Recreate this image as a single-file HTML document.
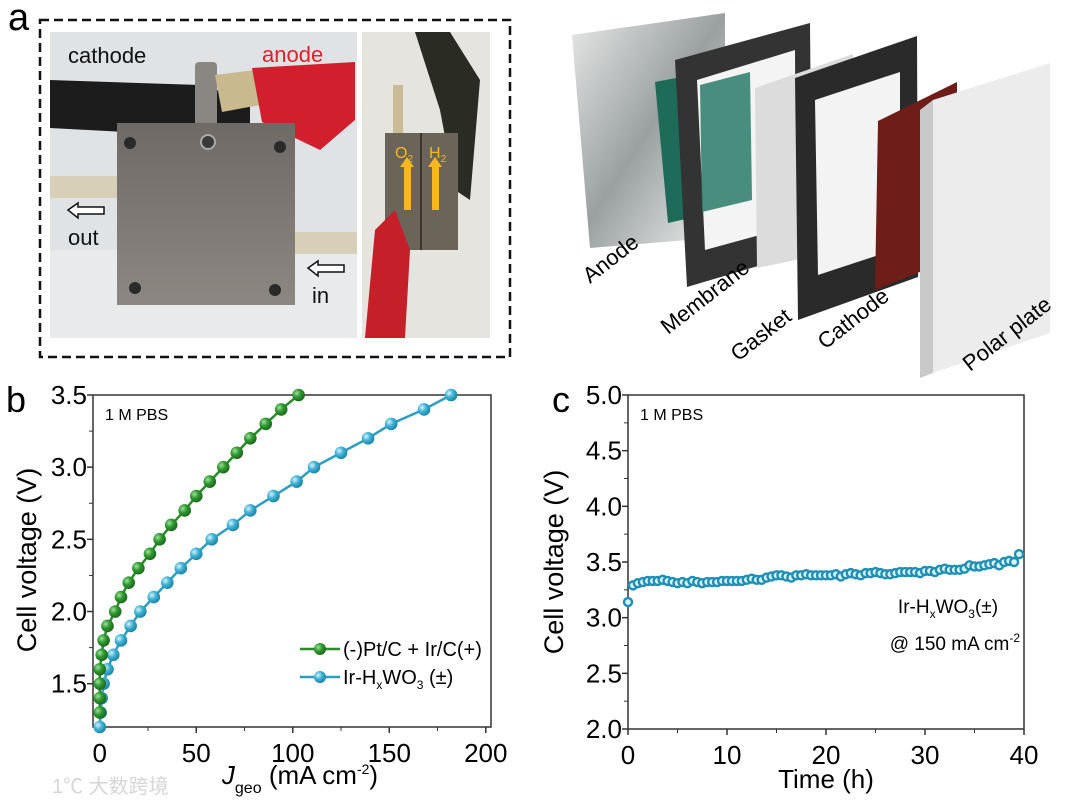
<!DOCTYPE html>
<html><head><meta charset="utf-8"><style>
html,body{margin:0;padding:0;background:#fff;}
svg{display:block;font-family:"Liberation Sans","Noto Sans CJK SC",sans-serif;}
</style></head><body>
<svg id="fig" width="1080" height="805" viewBox="0 0 1080 805" xmlns="http://www.w3.org/2000/svg">
<defs>
<radialGradient id="gBall" cx="35%" cy="35%" r="65%"><stop offset="0" stop-color="#9fe09f"/><stop offset="0.5" stop-color="#2f9a2f"/><stop offset="1" stop-color="#1d6b1d"/></radialGradient>
<radialGradient id="cBall" cx="35%" cy="35%" r="65%"><stop offset="0" stop-color="#d8f3fb"/><stop offset="0.5" stop-color="#3fb3d6"/><stop offset="1" stop-color="#1f86a8"/></radialGradient>
<linearGradient id="metal" x1="0" y1="0" x2="0" y2="1"><stop offset="0" stop-color="#6f6a66"/><stop offset="1" stop-color="#8d8782"/></linearGradient>
<linearGradient id="plateG" x1="0" y1="0" x2="1" y2="1"><stop offset="0" stop-color="#e8e8e8"/><stop offset="0.5" stop-color="#9aa0a0"/><stop offset="1" stop-color="#f2f2f2"/></linearGradient>
</defs>

<!-- Panel a -->
<text x="8" y="30" font-size="38">a</text>
<rect x="40" y="20" width="470" height="337" fill="none" stroke="#111" stroke-width="2.5" stroke-dasharray="9,5"/>
<g>
<rect x="50" y="32" width="307" height="306" fill="#dfe3e6"/>
<rect x="50" y="250" width="307" height="88" fill="#e9eaec"/>
<path d="M50 80 L200 85 L250 100 L250 130 L200 136 L50 128Z" fill="#1c1c1c"/>
<rect x="195" y="62" width="22" height="90" rx="4" fill="#8a8682"/>
<path d="M215 75 L255 70 L260 105 L222 112Z" fill="#c8b98e"/>
<path d="M252 68 L355 62 L355 120 L320 150 L262 122 Z" fill="#d21f2e"/>
<rect x="117" y="123" width="178" height="182" fill="url(#metal)"/>
<circle cx="130" cy="143" r="6" fill="#2a2a2a"/><circle cx="280" cy="147" r="6" fill="#2a2a2a"/>
<circle cx="135" cy="288" r="6" fill="#2a2a2a"/><circle cx="275" cy="290" r="6" fill="#2a2a2a"/>
<circle cx="208" cy="142" r="7" fill="#3a3a3a" stroke="#aaa" stroke-width="2"/>
<rect x="50" y="176" width="67" height="22" fill="#d7cfb7"/>
<rect x="295" y="232" width="62" height="22" fill="#d7cfb7"/>
<path d="M68 210 L78 203 L78 207 L104 207 L104 214 L78 214 L78 218Z" fill="#fff" stroke="#111" stroke-width="1.5"/>
<path d="M308 268 L318 261 L318 265 L344 265 L344 272 L318 272 L318 276Z" fill="#fff" stroke="#111" stroke-width="1.5"/>
<text x="68" y="63" font-size="22" fill="#111">cathode</text>
<text x="262" y="62" font-size="22" fill="#e0202c">anode</text>
<text x="68" y="245" font-size="22" fill="#111">out</text>
<text x="312" y="303" font-size="22" fill="#111">in</text>
</g>
<g>
<rect x="362" y="32" width="128" height="306" fill="#e6e4df"/>
<rect x="393" y="85" width="10" height="50" fill="#c9bc97"/>
<path d="M415 32 L450 32 L480 80 L470 200 L455 190 L440 110Z" fill="#2a2c24"/>
<rect x="385" y="133" width="73" height="117" fill="#6b6458"/>
<line x1="421" y1="133" x2="421" y2="250" stroke="#3a352e" stroke-width="2"/>
<path d="M365 338 L375 230 L395 210 L410 250 L405 338Z" fill="#c51f2a"/>
<rect x="404" y="165" width="7" height="45" fill="#f6b81e"/><path d="M400 167 L407 157 L414 167Z" fill="#f6b81e"/>
<rect x="432" y="165" width="7" height="45" fill="#f6b81e"/><path d="M428 167 L435 157 L442 167Z" fill="#f6b81e"/>
<text x="395" y="158" font-size="16" fill="#f6b81e">O<tspan font-size="10" dy="4">2</tspan></text>
<text x="429" y="158" font-size="16" fill="#f6b81e">H<tspan font-size="10" dy="4">2</tspan></text>
</g>

<!-- Exploded diagram -->
<g>
<polygon points="572,35 725,13 725,237 590,248" fill="url(#plateG)"/>
<polygon points="655,82 770,60 770,200 668,223" fill="#1f6b5a"/>
<polygon points="675,60 810,23 812,250 687,287" fill="#333"/>
<polygon points="697,80 795,50 796,225 705,250" fill="#f4f4f4"/>
<polygon points="700,85 750,72 752,200 702,212" fill="#2a7a68" opacity="0.85"/>
<polygon points="755,88 853,54 853,248 757,268" fill="#dcdcdc"/>
<polygon points="795,78 917,36 918,277 798,320" fill="#2a2a2a"/>
<polygon points="815,100 900,72 900,248 818,275" fill="#f3f3f3"/>
<polygon points="878,121 957,82 957,257 875,290" fill="#6e1d18"/>
<polygon points="920,110 933,100 933,373 920,378" fill="#c9c9c9"/>
<polygon points="933,100 1050,63 1050,333 933,373" fill="#ececec"/>
<text transform="translate(590,284) rotate(-38)" font-size="22">Anode</text>
<text transform="translate(668,335) rotate(-38)" font-size="22">Membrane</text>
<text transform="translate(738,362) rotate(-38)" font-size="22">Gasket</text>
<text transform="translate(825,350) rotate(-38)" font-size="22">Cathode</text>
<text transform="translate(970,372) rotate(-38)" font-size="22">Polar plate</text>
</g>

<!-- Panel b -->
<text x="6" y="412" font-size="36">b</text>
<g id="chartB"></g>
<text x="105" y="420" font-size="16">1 M PBS</text>
<text transform="translate(36,560) rotate(-90)" text-anchor="middle" font-size="27">Cell voltage (V)</text>
<text x="300" y="784" text-anchor="middle" font-size="26"><tspan font-style="italic">J</tspan><tspan font-size="16" dy="9">geo</tspan><tspan dy="-9"> (mA cm</tspan><tspan font-size="14" dy="-10">-2</tspan><tspan dy="10">)</tspan></text>
<g>
<line x1="300" y1="649" x2="340" y2="649" stroke="#2a8a2a" stroke-width="2.5"/><circle cx="320" cy="649" r="6" fill="url(#gBall)"/>
<text x="343" y="656" font-size="20">(-)Pt/C + Ir/C(+)</text>
<line x1="300" y1="677" x2="340" y2="677" stroke="#2a9ec4" stroke-width="2.5"/><circle cx="320" cy="677" r="6" fill="url(#cBall)"/>
<text x="343" y="684" font-size="20">Ir-H<tspan font-size="12" dy="5">x</tspan><tspan dy="-5">WO</tspan><tspan font-size="12" dy="5">3</tspan><tspan dy="-5"> (±)</tspan></text>
</g>

<!-- Panel c -->
<text x="552" y="412" font-size="36">c</text>
<g id="chartC"></g>
<text x="640" y="420" font-size="16">1 M PBS</text>
<text transform="translate(563,562) rotate(-90)" text-anchor="middle" font-size="27">Cell voltage (V)</text>
<text x="826" y="788" text-anchor="middle" font-size="26">Time (h)</text>
<text x="948" y="613" text-anchor="middle" font-size="19">Ir-H<tspan font-size="12" dy="5">x</tspan><tspan dy="-5">WO</tspan><tspan font-size="12" dy="5">3</tspan><tspan dy="-5">(±)</tspan></text>
<text x="1020" y="650" text-anchor="end" font-size="19">@ 150 mA cm<tspan font-size="12" dy="-8">-2</tspan></text>

<text x="52" y="793" font-size="20" fill="#d6d6d6">1℃ 大数跨境</text>
</svg>
<script>
// Chart b data
const bGreenJ = [0,0,0,0,1,2,4,8,11,15,20,26,31,37,44,50,57,64,71,78,86,94,103];
const bGreenV = [1.3,1.4,1.5,1.6,1.7,1.8,1.9,2.0,2.1,2.2,2.3,2.4,2.5,2.6,2.7,2.8,2.9,3.0,3.1,3.2,3.3,3.4,3.5];
const bCyanJ = [0,0.5,1,2,4,7,11,16,21,28,35,42,50,58,69,78,90,102,111,125,139,151,168,182];
const bCyanV = [1.2,1.3,1.4,1.5,1.6,1.7,1.8,1.9,2.0,2.1,2.2,2.3,2.4,2.5,2.6,2.7,2.8,2.9,3.0,3.1,3.2,3.3,3.4,3.5];
const bXTicks = [0,50,100,150,200];
const bYTicks = [1.5,2.0,2.5,3.0,3.5];
// Chart c data
const cTime = [0,0.5,1,1.5,2,2.5,3,3.5,4,4.5,5,5.5,6,6.5,7,7.5,8,8.5,9,9.5,10,10.5,11,11.5,12,12.5,13,13.5,14,14.5,15,15.5,16,16.5,17,17.5,18,18.5,19,19.5,20,20.5,21,21.5,22,22.5,23,23.5,24,24.5,25,25.5,26,26.5,27,27.5,28,28.5,29,29.5,30,30.5,31,31.5,32,32.5,33,33.5,34,34.5,35,35.5,36,36.5,37,37.5,38,38.5,39,39.5];
const cVolt = [3.14,3.29,3.31,3.32,3.33,3.33,3.33,3.34,3.33,3.32,3.31,3.32,3.31,3.33,3.32,3.31,3.32,3.32,3.32,3.33,3.33,3.33,3.33,3.33,3.34,3.35,3.34,3.34,3.36,3.37,3.38,3.38,3.37,3.36,3.38,3.38,3.39,3.38,3.38,3.38,3.38,3.38,3.39,3.37,3.39,3.40,3.39,3.38,3.40,3.40,3.41,3.40,3.39,3.39,3.40,3.41,3.41,3.41,3.41,3.40,3.42,3.42,3.41,3.43,3.44,3.43,3.43,3.43,3.44,3.47,3.46,3.46,3.47,3.48,3.49,3.47,3.50,3.51,3.50,3.57];
const cXTicks = [0,10,20,30,40];
const cYTicks = [2.0,2.5,3.0,3.5,4.0,4.5,5.0];

const NS='http://www.w3.org/2000/svg';
function mk(tag,attrs,parent){const e=document.createElementNS(NS,tag);for(const k in attrs)e.setAttribute(k,attrs[k]);parent.appendChild(e);return e;}

// ---- chart b ----
(function(){
const g=document.getElementById('chartB');
const L=93,R=491,T=395,B=727;
const xmin=-3.5,xmax=202.7,ymin=1.2,ymax=3.5;
const bx=v=>L+(v-xmin)/(xmax-xmin)*(R-L);
const by=v=>B-(v-ymin)/(ymax-ymin)*(B-T);
const frame=mk('rect',{x:L,y:T,width:R-L,height:B-T,fill:'none',stroke:'#333','stroke-width':1.5},g);


bXTicks.forEach(t=>{
  mk('line',{x1:bx(t),y1:B,x2:bx(t),y2:B+6,stroke:'#333','stroke-width':1.5},g);
  const tx=mk('text',{x:bx(t),y:B+35,'text-anchor':'middle','font-size':26},g);tx.textContent=t;
  
  
});
bXTicks.slice(0,-1).forEach(t=>mk('line',{x1:bx(t+25),y1:B,x2:bx(t+25),y2:B+4,stroke:'#333','stroke-width':1},g));
bYTicks.forEach(t=>{
  mk('line',{x1:L,y1:by(t),x2:L-6,y2:by(t),stroke:'#333','stroke-width':1.5},g);
  const tx=mk('text',{x:L-6,y:by(t)+9,'text-anchor':'end','font-size':26},g);tx.textContent=t.toFixed(1);
  
  
  if(t>1.5) mk('line',{x1:L,y1:by(t-0.25),x2:L-4,y2:by(t-0.25),stroke:'#333','stroke-width':1},g);
});
function series(J,V,col,grad,name){
  const p=mk('polyline',{points:J.map((j,i)=>bx(j)+','+by(V[i])).join(' '),fill:'none',stroke:col,'stroke-width':2.5},g);
  
  
  J.forEach((j,i)=>{
    const c=mk('circle',{cx:bx(j),cy:by(V[i]),r:6.3,fill:'url(#'+grad+')'},g);
    
    
  });
}
series(bCyanJ,bCyanV,'#2a9ec4','cBall','ir-hxwo3');
series(bGreenJ,bGreenV,'#2a8a2a','gBall','pt-ir');
})();

// ---- chart c ----
(function(){
const g=document.getElementById('chartC');
const L=628,R=1024,T=395,B=729;
const xmin=0,xmax=40,ymin=2.0,ymax=5.0;
const cx=v=>L+(v-xmin)/(xmax-xmin)*(R-L);
const cy=v=>B-(v-ymin)/(ymax-ymin)*(B-T);
const frame=mk('rect',{x:L,y:T,width:R-L,height:B-T,fill:'none',stroke:'#333','stroke-width':1.5},g);


cXTicks.forEach(t=>{
  mk('line',{x1:cx(t),y1:B,x2:cx(t),y2:B+6,stroke:'#333','stroke-width':1.5},g);
  const tx=mk('text',{x:cx(t),y:B+35,'text-anchor':'middle','font-size':26},g);tx.textContent=t;
  
  
  if(t<40) mk('line',{x1:cx(t+5),y1:B,x2:cx(t+5),y2:B+4,stroke:'#333','stroke-width':1},g);
});
cYTicks.forEach(t=>{
  mk('line',{x1:L,y1:cy(t),x2:L-6,y2:cy(t),stroke:'#333','stroke-width':1.5},g);
  const tx=mk('text',{x:L-6,y:cy(t)+9,'text-anchor':'end','font-size':26},g);tx.textContent=t.toFixed(1);
  
  
  if(t<5) mk('line',{x1:L,y1:cy(t+0.25),x2:L-4,y2:cy(t+0.25),stroke:'#333','stroke-width':1},g);
});
cTime.forEach((t,i)=>{
  const c=mk('circle',{cx:cx(t),cy:cy(cVolt[i]),r:4,fill:'#d8f3fb',stroke:'#1f8fb5','stroke-width':2.4},g);
  
  
});
})();
</script>
</body></html>
